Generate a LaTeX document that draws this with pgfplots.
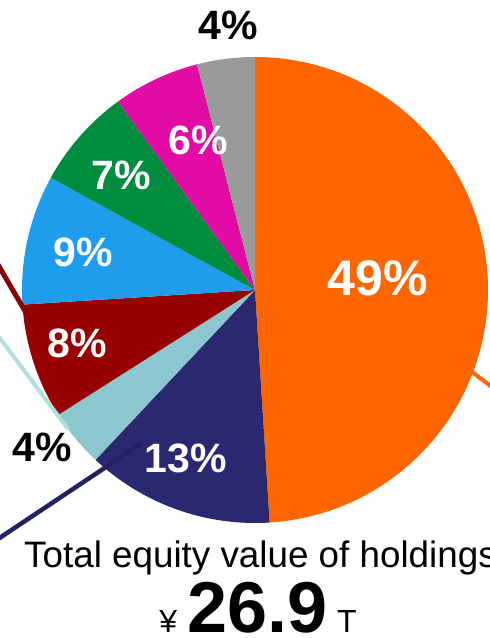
\documentclass[border=0pt]{standalone}
\usepackage{pgfplots}
\pgfplotsset{compat=1.18}
\usepackage{pgfplotstable}
\usepackage{fontspec}
\setmainfont{Liberation Sans}

\definecolor{cOrange}{HTML}{FF6600}
\definecolor{cNavy}{HTML}{2A2870}
\definecolor{cNavyLine}{HTML}{232363}
\definecolor{cTeal}{HTML}{8CC6CF}
\definecolor{cTealLine}{HTML}{B3DDE1}
\definecolor{cRed}{HTML}{990000}
\definecolor{cRedLine}{HTML}{880000}
\definecolor{cBlue}{HTML}{1F9DED}
\definecolor{cGreen}{HTML}{008C3F}
\definecolor{cMagenta}{HTML}{E20BA6}
\definecolor{cGray}{HTML}{9A9A9A}

% value, fill colour, label position (relative to pie centre, px), label colour, label size
\pgfplotstableread{
value col      lx    ly    lcol   fs
49    cOrange  123   12    white  50
13    cNavy    -69   -168  white  41
4     cTeal    -213  -157  black  41
8     cRed     -178  -53   white  41
9     cBlue    -172  38    white  41
7     cGreen   -134  115   white  41
6     cMagenta -57   150   white  41
4     cGray    -27   265   black  41
}\slices

\begin{document}
\begin{tikzpicture}
\useasboundingbox (0,0) rectangle (490pt,638pt);
\clip (0,0) rectangle (490pt,638pt);
\begin{axis}[hide axis, x=1pt, y=1pt,
  xmin=-300, xmax=300, ymin=-360, ymax=320,
  anchor=origin, at={(255pt,348pt)}, clip=false]
\xdef\angstart{90}
\pgfplotsinvokeforeach{0,...,7}{
  \pgfplotstablegetelem{#1}{value}\of\slices \edef\v{\pgfplotsretval}
  \pgfplotstablegetelem{#1}{col}\of\slices \edef\c{\pgfplotsretval}
  \pgfmathsetmacro\angend{\angstart-3.6*\v}
  \pgfmathsetmacro\sx{233*cos(\angstart)}
  \pgfmathsetmacro\sy{233*sin(\angstart)}
  \edef\tmp{\noexpand\fill[\c] (axis cs:0,0) -- (axis cs:\sx,\sy) arc[start angle=\angstart, end angle=\angend, radius=233pt] -- cycle;}
  \tmp
  \xdef\angstart{\angend}
}
% leader lines
\addplot[cOrange, line width=4pt, no marks] coordinates {(217,-82) (265,-118)};
\addplot[cNavyLine, line width=4.5pt, no marks] coordinates {(-113,-153) (-275,-261)};
\addplot[cTealLine, line width=4pt, no marks] coordinates {(-187,-139) (-265,-35)};
\addplot[cRedLine, line width=5pt, no marks] coordinates {(-223,-33) (-265,39)};
% labels
\pgfplotsinvokeforeach{0,...,7}{
  \pgfplotstablegetelem{#1}{value}\of\slices \edef\v{\pgfplotsretval}
  \pgfplotstablegetelem{#1}{lx}\of\slices \edef\lx{\pgfplotsretval}
  \pgfplotstablegetelem{#1}{ly}\of\slices \edef\ly{\pgfplotsretval}
  \pgfplotstablegetelem{#1}{lcol}\of\slices \edef\lc{\pgfplotsretval}
  \pgfplotstablegetelem{#1}{fs}\of\slices \edef\fs{\pgfplotsretval}
  \edef\tmp{\noexpand\node[text=\lc, inner sep=0pt, font=\noexpand\bfseries\noexpand\fontsize{\fs}{\fs}\noexpand\selectfont] at (axis cs:\lx,\ly) {\v\noexpand\%};}
  \tmp
}
\node[anchor=base, inner sep=0pt, font=\fontsize{36.8}{40}\selectfont] at (axis cs:5.5,-278) {Total equity value of holdings};
\node[anchor=base, inner sep=0pt] at (axis cs:3,-343) {{\fontsize{32}{36}\selectfont ¥}\hspace{10pt}{\bfseries\fontsize{72}{80}\selectfont 26.9}\hspace{10pt}{\fontsize{32}{36}\selectfont T}};
\end{axis}
\end{tikzpicture}
\end{document}
